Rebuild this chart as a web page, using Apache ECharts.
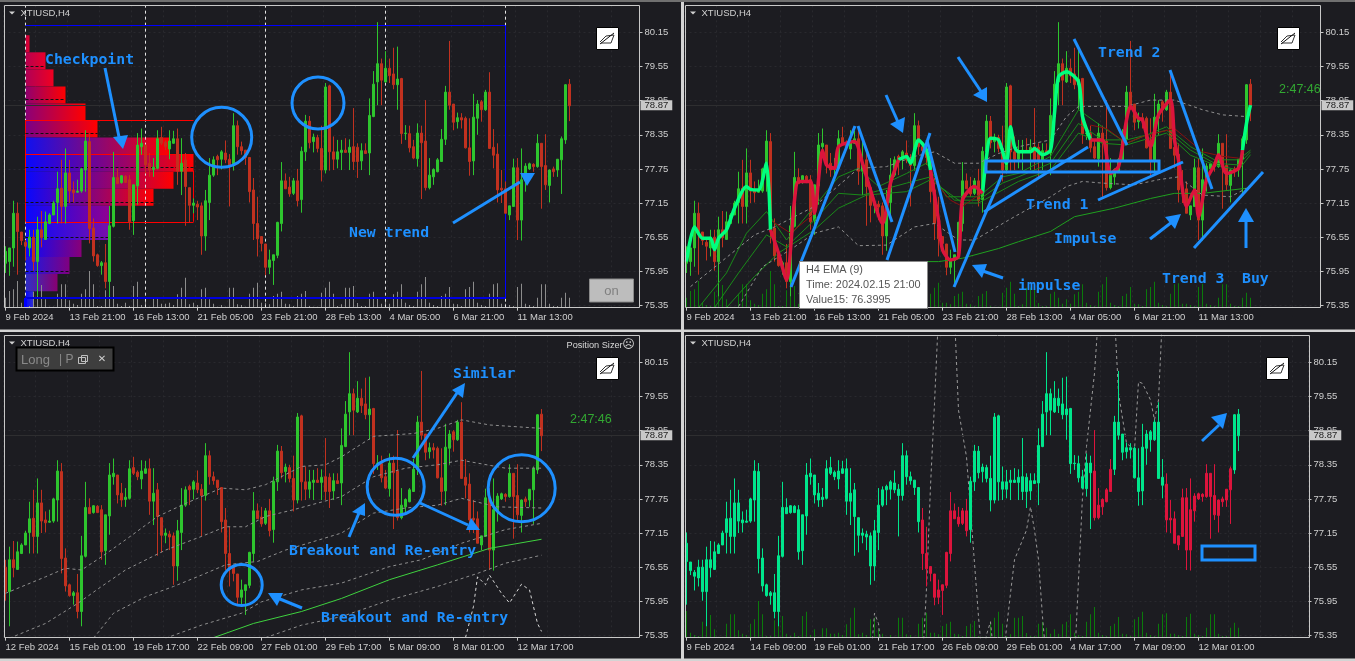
<!DOCTYPE html>
<html><head><meta charset="utf-8"><style>html,body{margin:0;padding:0;background:#d4d4d4}#c{width:1355px;height:661px}</style>
<script src="https://cdn.jsdelivr.net/npm/echarts@6/dist/echarts.min.js"></script></head><body><div id="c"></div>
<script>
const opens=[76.09,76.12,76.36,76.97,76.64,76.46,76.36,76.55,76.12,76.68,76.51,76.79,76.94,77.16,77.41,77.09,77.68,77.38,77.34,77.36,77.73,78.23,76.71,76.24,76.05,76.10,75.77,76.74,77.60,77.51,77.62,77.56,76.84,77.45,78.14,78.17,77.85,77.74,77.76,78.30,78.22,78.10,78.20,78.28,77.71,77.91,77.42,77.11,77.13,77.10,76.57,77.16,77.64,77.97,77.92,78.03,77.92,77.81,78.51,78.14,78.08,77.95,77.38,76.79,76.56,76.43,76.02,76.14,76.23,76.79,77.54,77.43,77.32,77.54,77.21,78.05,78.59,78.23,78.30,78.11,77.73,79.21,78.05,77.92,78.04,78.08,78.04,78.14,78.13,77.89,78.07,78.03,78.67,79.28,79.60,79.28,79.52,79.42,79.23,79.34,78.37,78.37,78.14,77.93,78.38,78.24,77.42,77.61,77.70,77.88,78.27,79.10,78.89,78.58,78.65,78.64,78.12,77.89,78.64,78.93,78.79,79.10,78.13,78.01,77.41,77.40,76.94,77.09,77.77,76.85,77.54,77.75,77.83,77.79,78.20,77.81,77.46,77.75,77.73,77.91,78.26,79.24];
const closes=[76.30,76.36,76.97,76.65,76.49,76.39,76.55,76.12,76.68,76.54,76.82,76.94,77.15,77.40,77.09,77.68,77.36,77.33,77.36,77.75,78.24,76.70,76.22,76.05,76.10,75.77,76.75,77.60,77.49,77.63,77.51,76.82,77.47,78.17,78.20,77.82,77.73,77.78,78.28,78.20,78.14,78.24,78.28,77.71,77.85,77.44,77.11,77.15,77.08,76.57,77.19,77.64,77.91,77.91,78.05,77.91,77.81,78.51,78.14,78.07,77.95,77.35,76.79,76.52,76.44,76.02,76.15,76.24,76.81,77.54,77.40,77.31,77.54,77.19,78.06,78.59,78.21,78.31,78.11,77.73,79.19,78.05,77.92,78.05,78.08,78.04,78.13,77.88,77.88,78.07,78.02,78.69,79.24,79.60,79.31,79.52,79.39,79.23,79.33,78.37,78.38,78.12,77.94,78.38,78.21,77.42,77.64,77.74,77.91,78.27,79.10,78.87,78.57,78.65,78.61,78.12,77.88,78.66,78.89,78.79,79.10,78.11,77.99,77.38,77.38,76.97,77.10,77.77,76.85,77.56,77.80,77.84,77.79,78.20,77.79,77.47,77.73,77.70,77.92,78.28,79.23,78.86];
const lows=[75.92,75.87,76.03,75.89,76.41,76.14,76.21,75.96,75.51,76.37,76.50,76.78,76.94,76.79,76.79,76.79,77.15,77.16,77.33,77.33,77.35,76.44,76.12,76.03,75.89,75.65,75.51,76.72,77.49,77.49,77.50,76.68,76.59,77.12,78.00,77.67,77.61,77.61,77.74,78.17,78.08,77.92,78.19,77.47,77.29,76.75,76.81,76.97,76.85,76.24,76.31,76.85,77.61,77.64,77.74,77.85,77.09,77.72,78.00,78.00,77.82,77.16,76.50,76.21,76.30,75.88,75.90,75.71,76.18,76.65,77.40,77.26,77.29,77.09,76.98,77.89,78.11,78.04,78.04,77.53,77.67,77.72,77.73,77.76,77.73,78.04,77.73,77.73,77.59,77.73,78.02,77.64,78.66,78.87,78.87,79.26,79.26,79.15,78.79,78.19,78.26,78.04,77.92,77.79,77.22,77.37,77.39,77.47,77.69,77.88,78.17,78.79,78.43,78.46,78.46,78.11,77.63,77.64,78.35,78.58,78.77,78.10,77.76,77.16,77.15,76.97,76.85,77.08,76.50,76.49,77.35,77.73,77.70,77.77,77.05,77.38,77.16,77.61,77.61,77.31,78.19,78.59];
const highs=[76.39,76.36,77.19,77.16,76.64,76.50,76.68,76.68,76.91,77.01,77.00,76.97,77.19,77.70,77.91,78.11,77.91,77.53,77.56,77.77,78.43,78.38,76.88,76.26,76.13,76.43,77.10,78.05,77.76,77.64,77.64,77.64,77.47,78.38,78.46,78.17,78.03,77.94,78.43,78.49,78.25,78.43,78.42,78.46,78.29,78.03,77.42,77.23,77.19,77.16,77.38,77.94,77.97,78.00,78.08,78.25,78.01,78.73,78.60,78.23,78.08,77.95,77.59,77.26,76.56,76.43,76.33,76.24,76.82,77.87,77.67,77.61,77.59,77.75,78.14,78.70,78.68,78.37,78.35,78.51,79.26,79.23,78.32,78.26,78.26,78.29,78.27,78.82,78.20,78.20,78.20,78.99,79.47,80.33,79.69,79.82,79.69,79.88,79.90,79.35,78.52,78.51,78.26,78.55,78.51,78.96,77.94,77.76,77.94,78.45,79.21,80.00,78.89,78.74,78.73,78.67,78.64,79.07,78.96,78.96,79.14,79.45,78.45,78.20,77.73,77.53,77.10,77.93,77.94,78.11,77.85,77.86,77.85,78.36,78.20,78.36,77.74,77.79,77.92,78.32,79.24,79.33];
const volumes=[30,50,55,80,15,8,5,48,70,68,25,3,3,42,70,70,22,12,8,42,55,110,70,5,5,52,80,65,12,5,15,5,65,78,8,25,3,28,28,12,12,15,8,40,60,90,10,15,8,55,60,25,12,3,8,3,60,60,10,8,3,42,60,75,15,15,10,35,42,48,12,10,5,35,42,50,5,3,3,45,60,78,42,5,10,60,60,65,14,5,5,42,48,30,12,25,12,40,48,70,15,8,5,48,70,92,15,8,5,35,42,62,12,10,5,55,62,78,15,8,5,42,70,73,12,12,8,5,62,72,12,8,5,30,70,70,12,5,5,30,45,30];
const ticks1=['9 Feb 2024','13 Feb 21:00','16 Feb 13:00','21 Feb 05:00','23 Feb 21:00','28 Feb 13:00','4 Mar 05:00','6 Mar 21:00','11 Mar 13:00'];
const ticks3=['12 Feb 2024','15 Feb 01:00','19 Feb 17:00','22 Feb 09:00','27 Feb 01:00','29 Feb 17:00','5 Mar 09:00','8 Mar 01:00','12 Mar 17:00'];
const ticks4=['9 Feb 2024','14 Feb 09:00','19 Feb 01:00','21 Feb 17:00','26 Feb 09:00','29 Feb 01:00','4 Mar 17:00','7 Mar 09:00','12 Mar 01:00'];
const priceTicks=[75.35,75.95,76.55,77.15,77.75,78.35,78.95,79.55,80.15];
const lastPrice=78.87;
// volume profile of panel 1: row volume, top to bottom
const profileVol=[1,5,7,10,15,18,36,42,37,32,21,21,14,11,8,2];
const profileTop=80.10, profileStep=0.30;
const profileLeft=['#C80040','#B80050','#B00058','#900070','#8C0078','#7A0088','#1010F0','#0808FF','#0808FF','#0808FF','#0808FF','#0808FF','#0808FF','#1818E8','#3030C8','#0808FF'];
const profileRight=['#E00030','#E8002A','#F00020','#FF0000','#FF0000','#FF0000','#FF0000','#FF0000','#FF0000','#FF0000','#900090','#7A10A8','#880078','#800080','#880070','#3030D0'];
const profileDash=[[79.55,5],[78.97,10],[78.37,18],[77.78,42],[77.17,32],[76.55,21],[75.95,11]];
// panel 2 main EMA knots
const emaMain=[[0,76.12],[2,76.73],[4,76.53],[6,76.53],[7,76.33],[8,76.53],[10,76.68],[12,77.06],[15,77.44],[16,77.39],[18,77.38],[20,77.85],[21,76.68],[23,76.27],[25,75.80],[27,77.20],[28,77.53],[31,77.53],[32,76.97],[34,78.08],[35,77.82],[37,77.76],[38,78.14],[42,78.23],[44,77.85],[46,77.38],[49,76.79],[51,77.50],[53,77.91],[55,77.97],[56,77.85],[58,78.26],[60,78.08],[61,77.73],[63,76.85],[64,76.33],[66,76.15],[68,76.21],[69,77.20],[72,77.44],[74,77.32],[75,77.97],[76,78.29],[78,78.26],[80,77.85],[81,78.49],[82,78.14],[83,78.05],[86,78.05],[87,78.11],[89,78.00],[91,78.08],[92,78.73],[93,79.37],[95,79.46],[98,79.28],[99,78.67],[101,78.26],[104,78.26],[106,77.67],[108,77.79],[110,78.61],[111,78.85],[113,78.64],[114,78.61],[116,78.14],[118,78.70],[121,78.96],[122,78.26],[123,77.91],[125,77.09],[127,77.38],[128,76.91],[130,77.56],[132,77.82],[133,78.00],[135,77.67],[138,77.76],[139,78.08],[140,78.55],[141,78.87]];
const emaRedRanges=[[21,53],[61,74],[101,139]];
const emaGreenRanges=[[0,21],[53,61],[74,101],[139,141]];
const greenF1=[[3,75.31],[10,75.92],[15,76.62],[20,77.0],[25,76.5],[32,77.09],[38,77.61],[43,77.76],[48,77.44],[55,77.67],[60,77.85],[65,77.26],[73,77.26],[79,77.61],[83,77.67],[91,77.97],[98,78.79],[104,78.49],[110,78.2],[120,78.49],[126,78.14],[132,77.91],[138,77.91],[141,78.08]];
const greenF2=[[7,75.31],[13,75.92],[20,76.59],[25,76.38],[32,76.85],[38,77.32],[44,77.29],[55,77.50],[61,77.61],[67,77.2],[73,77.2],[79,77.5],[83,77.61],[91,77.85],[98,78.55],[104,78.26],[110,78.26],[120,78.43],[126,78.08],[132,77.85],[138,77.82],[141,78.05]];
const greenF3=[[10,75.31],[17,75.86],[23,76.27],[32,76.68],[38,77.06],[45,77.29],[55,77.35],[61,77.56],[69,77.15],[73,77.15],[83,77.53],[91,77.73],[98,78.38],[104,78.2],[110,78.17],[120,78.38],[126,77.99],[132,77.82],[138,77.73],[141,78.0]];
const greenLong=[[28,75.56],[43,75.95],[57,76.12],[63,76.12],[69,76.18],[78,76.35],[83,76.47],[91,76.65],[97,76.91],[107,77.06],[116,77.23],[122,77.32],[129,77.32],[140,77.41]];
const grayUpper2=[[1,75.68],[17,76.59],[22,76.73],[32,77.09],[43,77.76],[50,77.79],[57,77.97],[62,78.05],[67,77.85],[73,77.85],[78,78.02],[83,78.14],[91,78.26],[95,78.67],[98,78.85],[105,78.85],[110,78.85],[116,78.96],[122,78.96],[129,78.79],[134,78.70],[140,78.67]];
const grayLower2=[[13,75.33],[19,76.03],[26,76.33],[32,76.62],[38,76.73],[43,76.40],[50,76.41],[57,76.73],[62,76.79],[68,76.50],[72,76.50],[82,76.91],[91,77.26],[95,77.44],[99,77.53],[104,77.50],[112,77.47],[118,77.56],[123,77.61],[129,77.29],[136,77.26],[140,77.41]];
const redA=[[21,76.85],[26,76.62],[32,76.97]];
const redB=[[61,77.61],[66,77.2],[69,77.09],[73,77.29]];
const redC=[[101,78.52],[105,78.46],[110,78.2],[114,78.32],[122,78.46],[129,78.05],[134,77.97],[138,77.94]];
// panel 3 envelopes (panel 3 bar numbers)
const env1=[[0,76.09],[10,76.38],[15,76.53],[19,76.50],[24,76.73],[30,77.03],[38,77.44],[45,77.67],[54,77.94],[60,77.91],[65,78.0],[74,78.32],[80,78.35],[84,78.49],[92,78.85],[102,78.90],[108,78.99],[114,79.14],[121,79.05],[134,78.99]];
const env2=[[1,75.30],[10,75.56],[18,75.91],[24,76.21],[30,76.50],[40,76.85],[49,77.09],[55,77.26],[60,77.26],[65,77.44],[72,77.56],[84,77.79],[92,78.14],[100,78.29],[108,78.35],[114,78.43],[125,78.29],[134,78.29]];
const env3=[[22,75.30],[27,75.74],[35,76.03],[42,76.21],[49,76.41],[55,76.59],[59,76.62],[63,76.65],[70,76.85],[84,77.15],[92,77.50],[100,77.59],[108,77.64],[114,77.76],[123,77.61],[134,77.59]];
const env4=[[40,75.30],[49,75.53],[59,75.74],[64,75.94],[74,76.15],[84,76.27],[96,76.56],[104,76.68],[114,76.97],[125,77.21],[134,77.32]];
const env6=[[65,75.31],[74,75.53],[84,75.68],[96,75.97],[108,76.21],[118,76.44],[125,76.62],[134,76.76]];
const emaLong3=[[52,75.31],[62,75.56],[74,75.77],[84,76.0],[96,76.33],[108,76.59],[121,76.88],[134,77.04]];
const osc3=[[115,75.31],[117,75.86],[118,76.38],[120,76.24],[121,76.41],[124,76.09],[126,75.92],[129,76.25],[131,76.15],[133,75.56],[134,75.42]];
// panel 4 oscillator pieces (panel 4 bar numbers)
const osc4=[
 [[46,74.86],[47,75.74],[48,75.56],[49,74.86]],
 [[59,74.86],[60,76.18],[61,77.97],[62,79.43],[63,81.0]],
 [[67,81.0],[68,79.31],[70,78.49],[71,77.56],[72,76.62],[73,75.68],[74,74.86]],
 [[74,74.86],[75,75.36],[76,75.59],[77,74.86]],
 [[79,74.86],[81,76.09],[82,76.68],[85,77.2],[86,77.61],[87,77.2],[88,76.68],[89,75.68],[90,74.86]],
 [[97,74.86],[99,77.79],[100,78.67],[102,79.96],[103,81.0]],
 [[107,81.0],[108,79.61],[110,78.73],[112,78.61],[113,79.81],[114,79.78],[116,79.49],[117,79.14]],
 [[117,79.14],[118,79.49],[119,81.0]]
];
const redRanges4=[[62,73],[105,109],[123,139]];

const FONT='"Liberation Sans",Arial,sans-serif', MONO='"DejaVu Sans Mono",monospace';
const FS=9.5;
const BLUE='#1E90FF', BG='#1c1c21', FRAME='#c8c8c8', TXT='#d0d0d0';
const GREEN='#2EC52E', RED='#C1311F', GREEN4='#00E68C', RED4='#DC143C';
const bars=(from)=>opens.slice(from).map((o,k)=>[o,closes[k+from],lows[k+from],highs[k+from]]);
const panels=[
 {left:3.5,width:636,top:5.33,bottom:307.67,n:159,from:0,ticks:ticks1,label:'p1'},
 {left:684.5,width:636,top:5.33,bottom:307.67,n:159,from:0,ticks:ticks1,label:'p2'},
 {left:3.5,width:636,top:335.33,bottom:637.67,n:159,from:7,ticks:ticks3,label:'p3'},
 {left:684.5,width:624,top:335.33,bottom:637.67,n:156,from:3,ticks:ticks4,label:'p4'}
];
const grid=[],xAxis=[],yAxis=[],series=[];
panels.forEach((p,k)=>{
 grid.push({left:p.left,top:p.top,width:p.width,height:p.bottom-p.top,show:false});
 xAxis.push({type:'category',gridIndex:k,data:Array.from({length:p.n},(_,i)=>String(i)),boundaryGap:true,
  axisLine:{show:false},
  axisTick:{show:true,alignWithLabel:true,length:3,interval:(i)=>i%16===0&&i<=128,lineStyle:{color:FRAME}},
  axisLabel:{show:true,align:'left',margin:5,color:TXT,fontFamily:FONT,fontSize:FS,interval:(i)=>i%16===0&&i<=128,formatter:(v,i)=>p.ticks[Math.round(i/16)]||''},
  splitLine:{show:true,interval:(i)=>i%8===0,lineStyle:{color:'#29292e',type:[2,3]}}});
 yAxis.push({type:'value',gridIndex:k,position:'right',min:75.31,max:80.626,scale:true,
  axisLine:{show:false},
  axisTick:{show:true,length:3,customValues:priceTicks,lineStyle:{color:FRAME}},
  axisLabel:{show:true,margin:5,color:TXT,fontFamily:FONT,fontSize:FS,customValues:priceTicks,formatter:(v)=>v.toFixed(2)},
  splitLine:{show:true,lineStyle:{color:'#29292e',type:[2,3]}}});
 yAxis.push({type:'value',gridIndex:k,position:'left',min:0,max:906,show:false,splitLine:{show:false}});
});
const yi=(k)=>2*k, vi=(k)=>2*k+1;
function priceLine(){return {silent:true,symbol:'none',animation:false,
  lineStyle:{color:'#2e2e30',width:1,type:'solid'},
  label:{show:true,position:'end',distance:1,formatter:lastPrice.toFixed(2),backgroundColor:'#c9c9c9',color:'#222',fontFamily:FONT,fontSize:FS,padding:[0,4,0,4],lineHeight:10},
  data:[{yAxis:lastPrice}]};}
function candle(k,itemFn,up,down){
 const d=bars(panels[k].from);
 return {type:'candlestick',xAxisIndex:k,yAxisIndex:yi(k),barWidth:2,z:5,silent:true,animation:false,
  itemStyle:{color:up,color0:down,borderColor:up,borderColor0:down,borderWidth:1},
  data:itemFn?d.map(itemFn):d,markLine:priceLine()};
}
function vol(k,color){const from=panels[k].from;
 return {type:'bar',xAxisIndex:k,yAxisIndex:vi(k),barWidth:1,z:3,silent:true,animation:false,itemStyle:{color},data:volumes.slice(from)};}
function ln(k,data,color,width,type,z,smooth){return {type:'line',xAxisIndex:k,yAxisIndex:yi(k),data,showSymbol:false,symbol:'none',silent:true,animation:false,z:z||6,smooth:smooth||false,
  lineStyle:{color,width:width||1,type:type||'solid'},clip:true};}
function seg(x1,p1,x2,p2,color,width,type){return [{coord:[x1,p1],lineStyle:{color,width,type:type||'solid'}},{coord:[x2,p2]}];}

// panel 1
series.push({type:'custom',xAxisIndex:0,yAxisIndex:yi(0),z:2,silent:true,animation:false,clip:false,
 data:profileVol.map((v,i)=>[i,v]),
 encode:{x:1,y:0},
 renderItem:(params,api)=>{const i=api.value(0),v=api.value(1);
  const a=api.coord([5,profileTop-i*profileStep]),b=api.coord([5+v,profileTop-(i+1)*profileStep]);
  return {type:'rect',shape:{x:a[0],y:a[1],width:b[0]-a[0],height:b[1]-a[1]},
   style:{fill:new echarts.graphic.LinearGradient(0,0,1,0,[{offset:0,color:profileLeft[i]},{offset:1,color:profileRight[i]}])}};}
});
series.push(vol(0,'#8c8c8c'));
series.push(candle(0,null,GREEN,RED));
series.push({type:'line',xAxisIndex:0,yAxisIndex:yi(0),data:[],silent:true,z:4,animation:false,
 markLine:{silent:true,symbol:'none',animation:false,label:{show:false},data:[
  ...[5,35,65,95,125].map(i=>seg(i,75.31,i,80.626,'#e6e6e6',1,[3,3])),
  seg(5,80.27,125,80.27,'#0000ff',1), seg(5,75.48,125,75.48,'#0000e0',2), seg(125,80.27,125,75.48,'#0000ff',1), seg(5,75.48,5,75.31,'#0000ff',3),
  seg(5,78.61,47,78.61,'#ff0000',1), seg(5,76.82,47,76.82,'#ff0000',1), seg(5,78.01,47,78.01,'#ff0000',1), seg(5,78.61,5,76.82,'#ff0000',1), seg(47,77.72,47,76.82,'#ff0000',1),
  ...profileDash.map(d=>seg(5,d[0],5+d[1],d[0],'#101010',1,[3,2]))
 ]}});

// panel 2
series.push(vol(1,'#0b7a0b'));
series.push(candle(1,null,GREEN,RED));
[greenF1,greenF2,greenF3].forEach(d=>series.push(ln(1,d,'#1a8a1a',1)));
series.push(ln(1,greenLong,'#1fa01f',1));
series.push(ln(1,grayUpper2,'#8f8f8f',1,[3,3]));
series.push(ln(1,grayLower2,'#8f8f8f',1,[3,3]));
[redA,redB,redC].forEach(d=>series.push(ln(1,d,'#8a1010',1)));
const piece=(r)=>emaMain.filter(q=>q[0]>=r[0]&&q[0]<=r[1]);
emaGreenRanges.forEach(r=>series.push(ln(1,piece(r),'#00FF7F',3.5,'solid',8,0.25)));
emaRedRanges.forEach(r=>series.push(ln(1,piece(r),RED4,3.5,'solid',8,0.25)));

// panel 3
series.push(candle(2,null,GREEN,RED));
[env1,env2,env3,env4,env6].forEach(d=>series.push(ln(2,d,'#8f8f8f',1,[3,3])));
series.push(ln(2,emaLong3,'#3fd23f',1));
series.push(ln(2,osc3,'#d8d8d8',1,[3,3]));

// panel 4
series.push(vol(3,'#0b7a0b'));
const isRed4=(i)=>redRanges4.some(r=>i>=r[0]&&i<=r[1]);
series.push(candle(3,(v,k)=>{const c=isRed4(k+3)?RED4:GREEN4;return {value:v,itemStyle:{color:c,color0:c,borderColor:c,borderColor0:c,borderWidth:1}};},GREEN4,GREEN4));
osc4.forEach(d=>series.push(ln(3,d,'#9a9a9a',1,[3,3],4)));

// drawn annotations and terminal furniture
const g=[];
g.push({type:'rect',z:-1,shape:{x:0,y:0,width:1355,height:2},style:{fill:'#707070'}});
[[0,2,681,327.5],[684,2,671,327.5],[0,332,681,326.5],[684,332,671,326.5]].forEach(r=>g.push({type:'rect',z:-1,shape:{x:r[0],y:r[1],width:r[2],height:r[3]},style:{fill:BG}}));
[[4.5,5.5,635,302],[685.5,5.5,635,302],[4.5,335.5,635,302],[685.5,335.5,624,302]].forEach(r=>g.push({type:'rect',z:20,shape:{x:r[0],y:r[1],width:r[2],height:r[3]},style:{fill:'none',stroke:FRAME,lineWidth:1}}));
const text=(x,y,t,o)=>g.push({type:'text',z:60,x,y,style:Object.assign({text:t,fill:BLUE,font:'bold 14.8px '+MONO,verticalAlign:'middle',textAlign:'left'},o||{})});
const line=(pts,w)=>g.push({type:'polyline',z:60,shape:{points:pts},style:{fill:'none',stroke:BLUE,lineWidth:w||3}});
const head=(pts)=>g.push({type:'polygon',z:60,shape:{points:pts},style:{fill:BLUE}});
const ring=(cx,cy,r)=>g.push({type:'circle',z:60,shape:{cx,cy,r},style:{fill:'none',stroke:BLUE,lineWidth:3}});
const box=(x0,y0,x1,y1)=>g.push({type:'rect',z:60,shape:{x:x0,y:y0,width:x1-x0,height:y1-y0},style:{fill:'none',stroke:BLUE,lineWidth:3}});
const arrow=(a,b,h)=>{line([a,b],3);head(h);};
const title=(x,y,t)=>{g.push({type:'polygon',z:60,shape:{points:[[x,y-1.5],[x+6,y-1.5],[x+3,y+1.5]]},style:{fill:TXT}});
 text(x+11.5,y,t,{fill:TXT,font:FS+'px '+FONT});};
title(9,13,'XTIUSD,H4');title(690,13,'XTIUSD,H4');title(9,343,'XTIUSD,H4');title(690,343,'XTIUSD,H4');
const eye=(x,y)=>{g.push({type:'rect',z:60,shape:{x:x+.5,y:y+.5,width:22,height:22},style:{fill:'#fff',stroke:'#000',lineWidth:1}});
 g.push({type:'polyline',z:61,shape:{points:[[x+4,y+15],[x+10,y+9],[x+18,y+8],[x+15,y+16],[x+5,y+16]]},style:{fill:'none',stroke:'#333',lineWidth:1}});
 g.push({type:'polyline',z:61,shape:{points:[[x+4,y+17],[x+18,y+6]]},style:{fill:'none',stroke:'#111',lineWidth:1}});};
eye(596,27);eye(1277,27);eye(596,357);eye(1266,357);
// panel 1
text(45,60,'Checkpoint');text(349,233,'New trend');
arrow([105,68],[119,137],[[113,137],[128,135],[123,149]]);
arrow([453,223],[520,182],[[520,173],[535,173],[527,186]]);
ring(221.7,137.3,30);ring(318,103,26);
g.push({type:'rect',z:60,shape:{x:589.5,y:279,width:44,height:23},style:{fill:'#bdbdbd',stroke:'#8a8a8a',lineWidth:1}});
text(611.5,291,'on',{fill:'#808080',font:'13px '+FONT,textAlign:'center'});
// panel 2
text(1098,53,'Trend 2');text(1026,205,'Trend 1');text(1054,239,'Impulse');text(1018,286,'impulse');text(1162,279,'Trend 3');text(1242,279,'Buy');
[[[791,287],[855,126]],[[858,126],[892,222]],[[887,260],[930,133]],[[927,140],[955,252]],[[954,287],[1002,175]],[[984,212],[1088,147]],[[1074,39],[1127,145]],[[1098,200],[1183,162]],[[1170,70],[1212,189]],[[1194,248],[1263,172]]].forEach(s=>line(s,3));
box(986,161,1159,172);
arrow([886,95],[898,122],[[890,124],[905,117],[903,133]]);
arrow([958,57],[982,93],[[973,95],[987,87],[987,102]]);
arrow([1003,278],[980,270],[[972,265],[987,264],[982,278]]);
arrow([1150,239],[1172,222],[[1165,217],[1181,214],[1175,229]]);
arrow([1246,248],[1246,222],[[1238,222],[1254,222],[1246,208]]);
text(1279,90,'2:47:46',{fill:'#32a832',font:'12.5px '+FONT});
g.push({type:'rect',z:62,shape:{x:799.5,y:261.5,width:128,height:47},style:{fill:'#fff',stroke:'#8a8a8a',lineWidth:1}});
[['H4 EMA (9)',270],['Time: 2024.02.15 21:00',285],['Value15: 76.3995',300]].forEach(r=>g.push({type:'text',z:63,x:806,y:r[1],style:{text:r[0],fill:'#555',font:'10.9px '+FONT,verticalAlign:'middle'}}));
// panel 3
text(453,374,'Similar');text(289,551,'Breakout and Re-entry');text(321,618,'Breakout and Re-entry');
ring(241.7,585,20.5);ring(395.7,486.7,28.5);ring(521.7,488.3,33.5);
arrow([302,608],[275,597],[[268,593],[283,593],[277,606]]);
arrow([413,458],[457,393],[[452,390],[465,383],[463,398]]);
arrow([349,537],[359,513],[[352,512],[365,503],[365,516]]);
arrow([420,503],[468,525],[[466,530],[471,518],[480,530]]);
text(570,420,'2:47:46',{fill:'#32a832',font:'12.5px '+FONT});
text(566.5,345,'Position Sizer',{fill:'#d8d8d8',font:'9.2px '+FONT});
text(628.5,345,'☹',{fill:'#d8d8d8',font:'12px "DejaVu Sans"',textAlign:'center'});
g.push({type:'rect',z:60,shape:{x:16.5,y:347.5,width:97,height:23},style:{fill:'#3e3e3e',stroke:'#000',lineWidth:2}});
text(21,360,'Long',{fill:'#8a8a8a',font:'13px '+FONT});
text(59,360,'| P',{fill:'#8a8a8a',font:'12px '+FONT});
g.push({type:'rect',z:61,shape:{x:78.5,y:357.5,width:7,height:6},style:{fill:'none',stroke:'#c0c0c0',lineWidth:1}});
g.push({type:'rect',z:61,shape:{x:81.5,y:355.5,width:6,height:6},style:{fill:'none',stroke:'#c0c0c0',lineWidth:1}});
text(102,359,'✕',{fill:'#d0d0d0',font:'bold 10px "DejaVu Sans"',textAlign:'center'});
// panel 4
box(1202,546,1255,560);
arrow([1202,441],[1219,425],[[1211,417],[1227,413],[1223,429]]);

echarts.init(document.getElementById('c'),null,{renderer:'canvas',width:1355,height:661}).setOption({
 backgroundColor:'#d4d4d4',animation:false,grid,xAxis,yAxis,series,graphic:{elements:g},tooltip:{show:false},legend:{show:false}
});
</script></body></html>
